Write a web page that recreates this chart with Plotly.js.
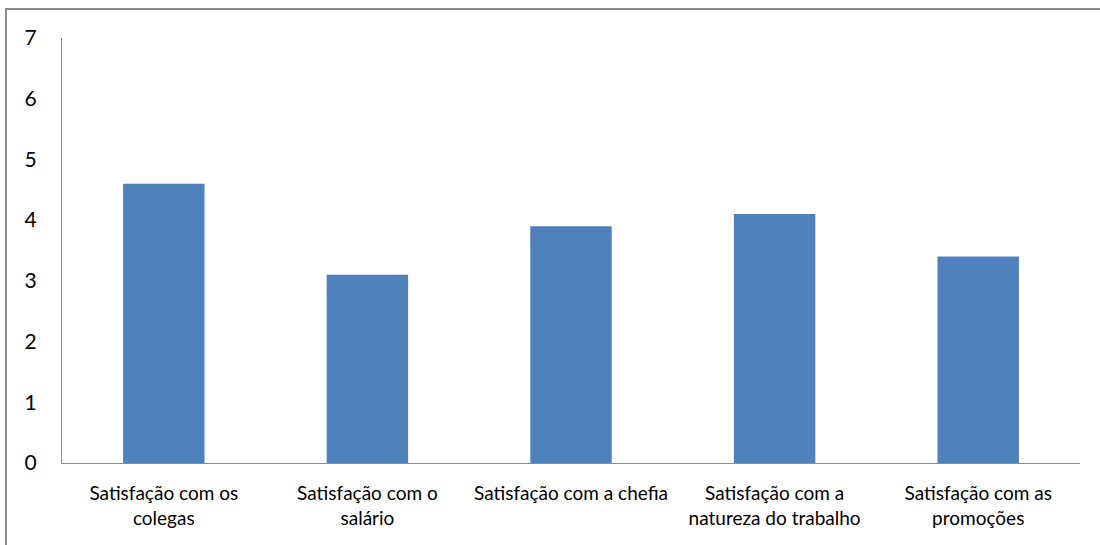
<!DOCTYPE html>
<html>
<head>
<meta charset="utf-8">
<script src="https://cdn.plot.ly/plotly-3.0.1.min.js"></script>
<style>
  html, body { margin: 0; padding: 0; background: #fff; }
  #wrap { position: relative; width: 1100px; height: 545px; overflow: hidden; }
  #chart { position: absolute; left: 0; top: 0; width: 1100px; height: 545px; }
  #frame { position: absolute; left: 5px; top: 8px; width: 1120px; height: 560px;
           border-left: 2px solid #8a8a8a; border-top: 2px solid #8a8a8a; pointer-events: none; }
</style>
</head>
<body>
<div id="wrap">
  <div id="chart"></div>
  <div id="frame"></div>
</div>
<script>
const categories = [
  "Satisfação com os<br>colegas",
  "Satisfação com o<br>salário",
  "Satisfação com a chefia",
  "Satisfação com a<br>natureza do trabalho",
  "Satisfação com as<br>promoções"
];
const values = [4.6, 3.1, 3.9, 4.1, 3.4];
const yTicks = [0, 1, 2, 3, 4, 5, 6, 7];

const font = "Lato, 'Open Sans', sans-serif";

Plotly.newPlot('chart', [{
  type: 'bar',
  x: categories,
  y: values,
  marker: { color: '#4F81BD' },
  hoverinfo: 'skip'
}], {
  width: 1100, height: 545,
  margin: { l: 62, r: 20, t: 38, b: 82 },
  paper_bgcolor: '#ffffff',
  plot_bgcolor: '#ffffff',
  bargap: 0.6,
  showlegend: false,
  xaxis: {
    showline: true, linecolor: '#8c8c8c', linewidth: 1,
    showgrid: false, zeroline: false,
    ticks: 'outside', ticklen: 13, tickcolor: 'rgba(0,0,0,0)',
    tickfont: { family: font, size: 19, color: '#000' }
  },
  yaxis: {
    range: [0, 7],
    tickvals: yTicks,
    ticktext: yTicks.map(String),
    showline: true, linecolor: '#8c8c8c', linewidth: 1,
    showgrid: false, zeroline: false,
    ticks: 'outside', ticklen: 20, tickcolor: 'rgba(0,0,0,0)',
    tickfont: { family: font, size: 21, color: '#000' }
  }
}, { staticPlot: true });
</script>
</body>
</html>
